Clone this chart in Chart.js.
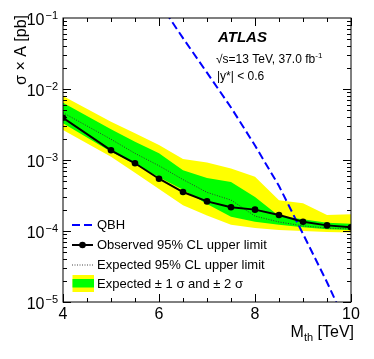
<!DOCTYPE html>
<html lang="en">

<head>
    <meta charset="UTF-8">
    <title>QBH limits</title>
    <script src="https://cdn.jsdelivr.net/npm/chart.js"></script>
    <style>
        body { margin: 0; background: #fff; }
    </style>
</head>

<body>

    <canvas id="limitChart" width="374" height="359"></canvas>

    <script>
        // Threshold mass points [TeV]
        const mass = [4, 5, 5.5, 6, 6.5, 7, 7.5, 8, 8.5, 9, 9.5, 10];
        // Observed and expected 95% CL upper limits on sigma x A [pb]
        const observed = [3.94e-3, 1.37e-3, 9.0e-4, 5.45e-4, 3.54e-4, 2.61e-4, 2.16e-4, 2.0e-4, 1.68e-4, 1.35e-4, 1.20e-4, 1.13e-4];
        const expected = [4.64e-3, 1.96e-3, 1.24e-3, 8.3e-4, 5.3e-4, 3.5e-4, 2.73e-4, 1.62e-4, 1.34e-4, 1.18e-4, 1.10e-4, 1.07e-4];
        const oneSigmaUp = [6.4e-3, 2.7e-3, 1.81e-3, 1.24e-3, 7.2e-4, 5.6e-4, 4.9e-4, 3.0e-4, 1.63e-4, 1.46e-4, 1.31e-4, 1.26e-4];
        const oneSigmaDown = [3.3e-3, 1.31e-3, 8.8e-4, 5.7e-4, 3.8e-4, 2.4e-4, 1.59e-4, 1.35e-4, 1.22e-4, 1.13e-4, 1.06e-4, 1.03e-4];
        const twoSigmaUp = [7.96e-3, 3.46e-3, 2.38e-3, 1.63e-3, 1.03e-3, 9.2e-4, 7.6e-4, 5.8e-4, 2.7e-4, 2.45e-4, 1.68e-4, 1.72e-4];
        const twoSigmaDown = [2.65e-3, 1.11e-3, 6.6e-4, 3.9e-4, 2.3e-4, 1.65e-4, 1.22e-4, 1.10e-4, 1.03e-4, 1.0e-4, 9.7e-5, 9.5e-5];
        // QBH signal prediction
        const qbhMass = [6, 6.5, 7, 7.5, 8, 8.5, 9, 9.5, 10];
        const qbhXsec = [1.66e-1, 5.2e-2, 1.7e-2, 5.5e-3, 1.6e-3, 4.3e-4, 9.1e-5, 1.9e-5, 3.5e-6];

        // Axis ticks
        const xMajor = [4, 6, 8, 10];
        const yDecades = [-1, -2, -3, -4, -5];

        const FONT = '"Liberation Sans", Arial, sans-serif';

        function pts(xs, ys) {
            return xs.map((x, i) => ({ x: x, y: ys[i] }));
        }

        // Draws the ROOT style frame, inward ticks, labels, titles and legend
        const atlasDecor = {
            id: 'atlasDecor',
            afterDraw(chart) {
                const ctx = chart.ctx;
                const a = chart.chartArea;
                const xs = chart.scales.x;
                const ys = chart.scales.y;
                ctx.save();
                ctx.strokeStyle = '#000';
                ctx.lineWidth = 1;
                ctx.strokeRect(a.left, a.top, a.right - a.left, a.bottom - a.top);

                // x ticks every 0.5, major every 2
                ctx.beginPath();
                for (let v = 4; v <= 10.001; v += 0.5) {
                    const px = Math.round(xs.getPixelForValue(v)) + 0.5;
                    const len = (v % 2 === 0) ? 8 : 4;
                    ctx.moveTo(px, a.bottom); ctx.lineTo(px, a.bottom - len);
                    ctx.moveTo(px, a.top); ctx.lineTo(px, a.top + len);
                }
                // y log ticks
                for (let d = -5; d <= -2; d++) {
                    for (let m = 1; m <= 9; m++) {
                        const py = Math.round(ys.getPixelForValue(m * Math.pow(10, d))) + 0.5;
                        const len = m === 1 ? 8 : 4;
                        ctx.moveTo(a.left, py); ctx.lineTo(a.left + len, py);
                        ctx.moveTo(a.right, py); ctx.lineTo(a.right - len, py);
                    }
                }
                ctx.stroke();

                ctx.fillStyle = '#000';
                // x tick labels
                ctx.font = '16px ' + FONT;
                ctx.textAlign = 'center';
                ctx.textBaseline = 'top';
                xMajor.forEach(v => ctx.fillText(String(v), xs.getPixelForValue(v), a.bottom + 5));

                // y tick labels 10^n
                ctx.textBaseline = 'alphabetic';
                ctx.textAlign = 'right';
                yDecades.forEach(d => {
                    const py = ys.getPixelForValue(Math.pow(10, d));
                    const exp = '\u2212' + Math.abs(d);
                    ctx.font = '11px ' + FONT;
                    const ew = ctx.measureText(exp).width;
                    ctx.fillText(exp, a.left - 5, py + 1);
                    ctx.font = '16px ' + FONT;
                    ctx.fillText('10', a.left - 6 - ew, py + 7);
                });

                // x title
                ctx.textAlign = 'left';
                ctx.font = '16px ' + FONT;
                const wM = ctx.measureText('M').width;
                const wT = ctx.measureText(' [TeV]').width;
                ctx.font = '11px ' + FONT;
                const wth = ctx.measureText('th').width;
                let tx = 354 - wM - wth - wT;
                ctx.font = '16px ' + FONT;
                ctx.fillText('M', tx, 337);
                ctx.font = '11px ' + FONT;
                ctx.fillText('th', tx + wM, 341);
                ctx.font = '16px ' + FONT;
                ctx.fillText(' [TeV]', tx + wM + wth, 337);

                // y title
                ctx.save();
                ctx.translate(26, 15);
                ctx.rotate(-Math.PI / 2);
                ctx.textAlign = 'right';
                ctx.fillText('\u03c3 \u00d7 A [pb]', 0, 0);
                ctx.restore();

                // ATLAS label
                ctx.textAlign = 'left';
                ctx.font = 'italic bold 15px ' + FONT;
                ctx.fillText('ATLAS', 218, 42);
                ctx.font = '12px ' + FONT;
                const s1 = '\u221as=13 TeV, 37.0 fb';
                ctx.fillText(s1, 216, 63);
                const w1 = ctx.measureText(s1).width;
                ctx.font = '8px ' + FONT;
                ctx.fillText('-1', 216 + w1, 58);
                ctx.font = '12px ' + FONT;
                ctx.fillText('|y*| < 0.6', 217, 80);

                // legend
                ctx.textBaseline = 'middle';
                ctx.font = '13px ' + FONT;
                ctx.beginPath();
                ctx.strokeStyle = '#0000ff';
                ctx.lineWidth = 2;
                ctx.setLineDash([8, 4]);
                ctx.moveTo(72, 225); ctx.lineTo(93, 225);
                ctx.stroke();
                ctx.setLineDash([]);
                ctx.fillText('QBH', 97, 225);

                ctx.beginPath();
                ctx.strokeStyle = '#000';
                ctx.moveTo(72, 245); ctx.lineTo(93, 245);
                ctx.stroke();
                ctx.beginPath();
                ctx.arc(82.5, 245, 3.3, 0, Math.PI * 2);
                ctx.fill();
                ctx.fillText('Observed 95% CL upper limit', 97, 245);

                ctx.beginPath();
                ctx.lineWidth = 1;
                ctx.strokeStyle = '#444';
                ctx.setLineDash([1, 1.5]);
                ctx.moveTo(72, 265); ctx.lineTo(93, 265);
                ctx.stroke();
                ctx.setLineDash([]);
                ctx.fillText('Expected 95% CL upper limit', 97, 265);

                ctx.fillStyle = '#ffff00';
                ctx.fillRect(72.5, 275, 21.5, 17);
                ctx.fillStyle = '#00ff00';
                ctx.fillRect(72.5, 279, 21.5, 8.5);
                ctx.fillStyle = '#000';
                ctx.fillText('Expected \u00b1 1 \u03c3 and \u00b1 2 \u03c3', 97, 284);
                ctx.restore();
            }
        };

        const ctx = document.getElementById('limitChart').getContext('2d');
        new Chart(ctx, {
            type: 'line',
            data: {
                datasets: [{
                    label: 'Observed 95% CL upper limit',
                    data: pts(mass, observed),
                    borderColor: '#000',
                    backgroundColor: '#000',
                    borderWidth: 2,
                    pointRadius: 3.3,
                    pointBorderWidth: 0,
                    fill: false
                }, {
                    label: 'Expected 95% CL upper limit',
                    data: pts(mass, expected),
                    borderColor: '#333',
                    borderWidth: 1,
                    borderDash: [1, 1.5],
                    pointRadius: 0,
                    fill: false
                }, {
                    label: 'QBH',
                    data: pts(qbhMass, qbhXsec),
                    borderColor: '#0000ff',
                    borderWidth: 2,
                    borderDash: [8, 4],
                    pointRadius: 0,
                    fill: false
                }, {
                    label: '+1 sigma',
                    data: pts(mass, oneSigmaUp),
                    borderWidth: 0,
                    pointRadius: 0,
                    backgroundColor: '#00ff00',
                    fill: '+1'
                }, {
                    label: '-1 sigma',
                    data: pts(mass, oneSigmaDown),
                    borderWidth: 0,
                    pointRadius: 0,
                    fill: false
                }, {
                    label: '+2 sigma',
                    data: pts(mass, twoSigmaUp),
                    borderWidth: 0,
                    pointRadius: 0,
                    backgroundColor: '#ffff00',
                    fill: '+1'
                }, {
                    label: '-2 sigma',
                    data: pts(mass, twoSigmaDown),
                    borderWidth: 0,
                    pointRadius: 0,
                    fill: false
                }]
            },
            options: {
                responsive: false,
                animation: false,
                devicePixelRatio: 1,
                layout: {
                    padding: { left: 63, top: 18, right: 23, bottom: 57 }
                },
                plugins: {
                    legend: { display: false },
                    tooltip: { enabled: false }
                },
                scales: {
                    x: {
                        type: 'linear',
                        min: 4,
                        max: 10,
                        display: false
                    },
                    y: {
                        type: 'logarithmic',
                        min: 1e-5,
                        max: 1e-1,
                        display: false
                    }
                }
            },
            plugins: [atlasDecor]
        });
    </script>

</body>

</html>
